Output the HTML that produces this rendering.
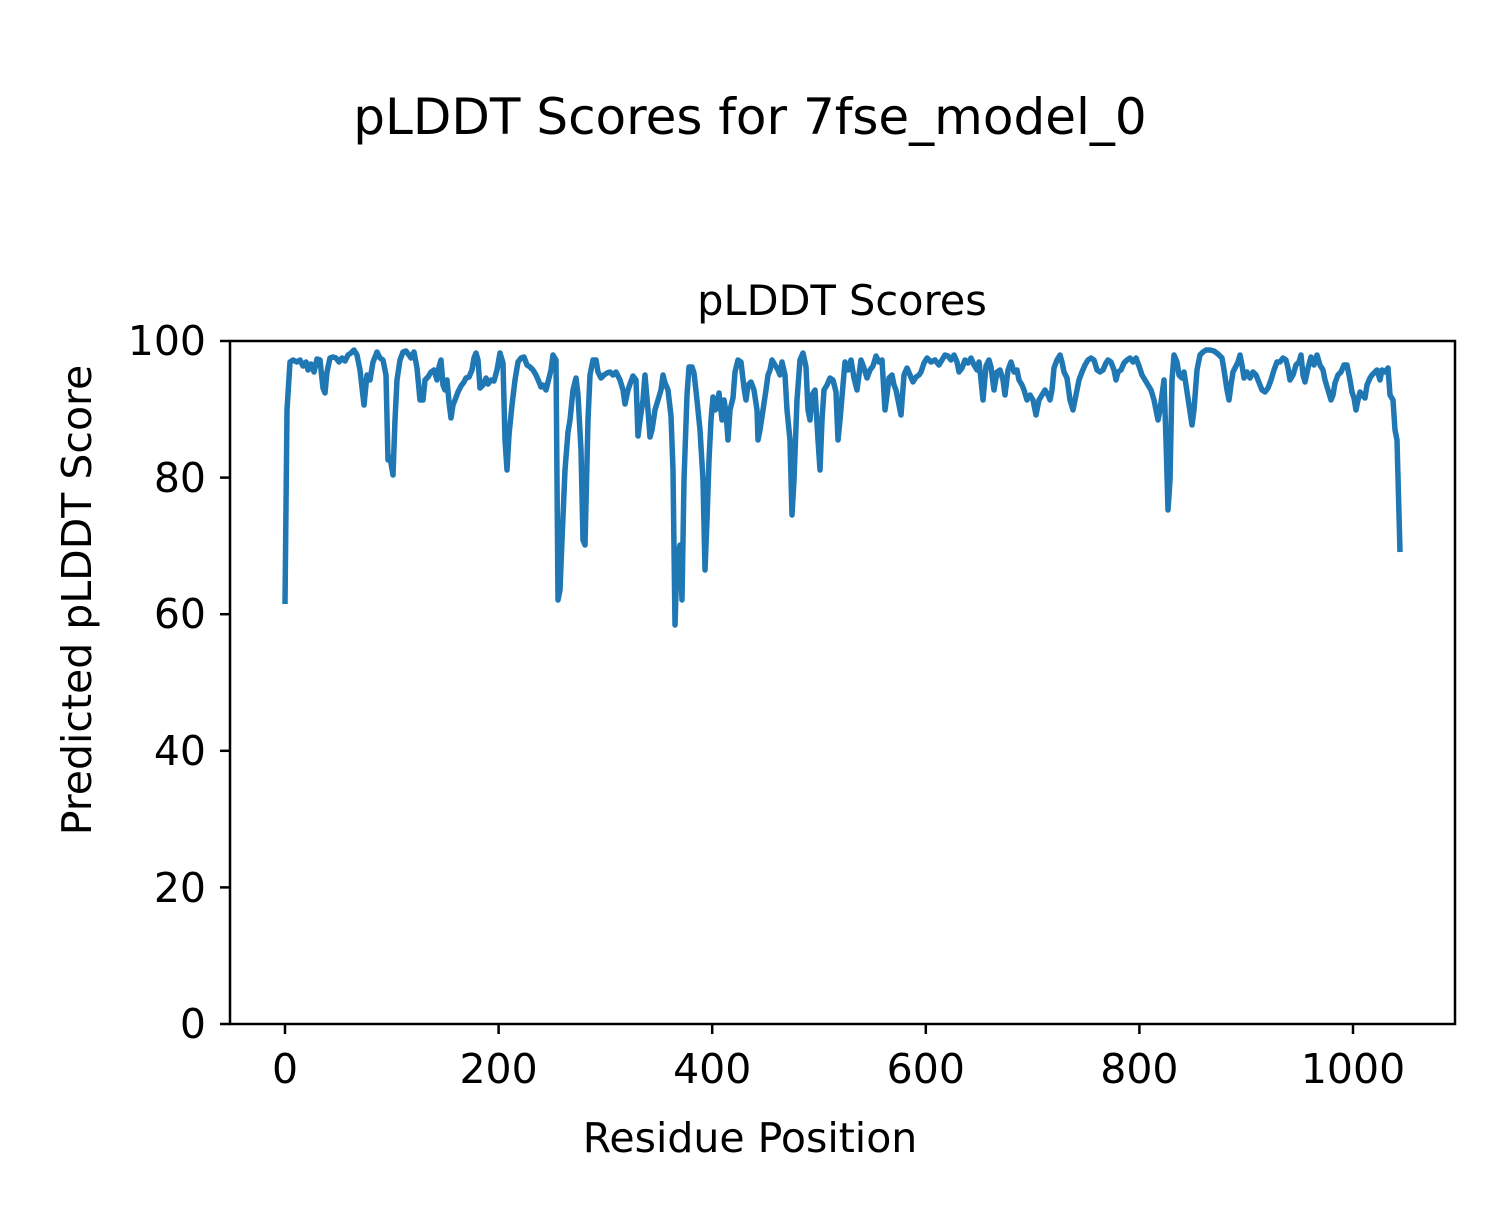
<!DOCTYPE html>
<html><head><meta charset="utf-8"><style>
html,body{margin:0;padding:0;background:#fff}
svg text{font-family:"DejaVu Sans","Liberation Sans",sans-serif;fill:#000}
</style></head><body>
<svg width="1500" height="1200" viewBox="0 0 1500 1200" xmlns="http://www.w3.org/2000/svg">
<rect width="1500" height="1200" fill="#fff"/>
<text x="750" y="134" font-size="50" text-anchor="middle">pLDDT Scores for 7fse_model_0</text>
<text x="842" y="315" font-size="41.5" text-anchor="middle">pLDDT Scores</text>
<defs><clipPath id="c"><rect x="230" y="341" width="1225" height="683"/></clipPath></defs>
<polyline clip-path="url(#c)" fill="none" stroke="#1f77b4" stroke-width="5.5" stroke-linejoin="round" points="285,604 287,410 290,362 293,360 297,362 300,360 303,366 306,362 308,370 311,364 314,372 317,359 320,360 323,388 325,393 327,372 330,358 333,357 336,358 339,362 342,358 345,361 348,355 351,353 354,350 357,355 360,370 364,405 367,375 370,380 373,362 377,352 380,358 383,360 386,375 388,460 390,457 393,475 395,420 397,380 400,360 403,352 406,351 409,355 411,358 414,352 417,368 420,400 423,400 425,380 428,377 431,372 434,370 437,380 439,367 441,360 443,385 445,390 447,380 449,402 451,418 453,405 455,400 458,392 461,386 464,382 466,378 469,377 472,370 474,358 476,353 478,360 480,388 483,385 486,378 488,384 491,380 494,381 497,370 500,353 503,363 505,440 507,470 509,435 512,405 515,380 518,362 521,358 524,357 527,365 530,367 533,370 536,375 539,382 541,387 543,385 546,390 548,382 551,370 553,355 556,360 558,600 560,590 562,540 565,470 568,432 570,420 573,390 576,378 578,395 581,450 583,540 585,545 588,420 590,375 593,360 596,360 598,372 601,378 604,375 607,373 610,372 613,375 616,372 620,380 623,390 625,404 628,390 630,384 633,376 636,380 638,436 640,420 643,400 645,375 648,410 650,437 652,430 655,410 658,400 661,390 663,375 665,383 668,390 671,416 673,470 675,625 677,560 680,545 682,600 684,480 687,395 689,367 692,367 694,373 697,400 700,430 703,480 705,570 707,520 709,460 711,420 713,397 715,410 717,408 719,393 722,420 724,400 726,412 728,440 730,410 733,398 735,372 738,360 741,362 744,388 746,400 748,385 751,382 754,390 757,410 758,440 760,430 763,410 766,390 768,375 770,370 772,360 775,365 778,370 780,375 782,362 785,375 787,410 790,440 792,515 794,480 797,400 800,360 803,353 806,367 808,410 810,420 812,395 815,390 818,440 820,470 822,420 824,390 827,385 830,378 833,380 836,392 838,440 840,420 843,385 845,362 848,370 851,360 854,378 857,390 859,375 861,360 864,368 867,378 870,370 873,366 876,356 879,362 882,360 885,410 887,395 889,378 892,375 894,385 896,390 899,405 901,415 904,375 907,368 910,375 913,382 916,377 919,375 921,372 924,363 927,358 931,362 935,360 939,365 942,360 945,355 948,356 951,360 954,355 957,362 959,372 962,368 965,360 968,363 971,358 974,365 977,370 979,362 981,380 983,400 986,366 989,360 991,367 994,390 997,372 1000,370 1003,380 1005,395 1008,370 1011,362 1014,372 1017,370 1019,380 1022,385 1024,390 1027,400 1030,395 1033,400 1036,415 1039,400 1042,395 1045,390 1048,395 1050,400 1052,390 1054,368 1057,360 1060,355 1062,362 1064,372 1067,378 1070,400 1073,410 1076,395 1079,380 1082,372 1085,365 1088,360 1091,358 1094,360 1097,370 1100,372 1103,370 1106,363 1108,360 1111,362 1114,370 1116,380 1118,372 1121,370 1124,363 1127,360 1130,358 1133,362 1136,358 1139,366 1142,375 1145,380 1148,385 1151,390 1154,400 1156,410 1158,420 1160,410 1162,395 1164,380 1166,440 1168,510 1170,480 1172,380 1174,355 1177,362 1179,375 1182,378 1184,372 1186,385 1189,405 1192,425 1194,410 1197,370 1200,355 1203,352 1206,350 1210,350 1214,351 1218,354 1222,358 1224,370 1227,390 1229,400 1231,385 1233,372 1235,368 1238,362 1240,355 1242,365 1244,378 1247,372 1250,378 1253,372 1256,375 1258,380 1260,385 1262,390 1265,392 1268,388 1271,380 1274,370 1277,362 1280,362 1283,358 1286,360 1288,368 1290,380 1293,375 1296,365 1299,362 1301,355 1303,375 1305,382 1308,368 1311,357 1314,365 1317,355 1320,365 1323,370 1325,380 1328,390 1331,400 1333,395 1335,383 1338,375 1341,372 1344,365 1347,365 1350,380 1352,392 1354,398 1356,410 1358,400 1360,392 1362,395 1365,398 1367,385 1370,378 1372,375 1374,373 1377,370 1380,380 1382,370 1385,372 1388,368 1390,395 1393,400 1395,430 1397,440 1400,552"/>
<rect x="230" y="341" width="1225" height="683" fill="none" stroke="#000" stroke-width="2.5"/>
<g stroke="#000" stroke-width="2.5">
<line x1="285" y1="1024" x2="285" y2="1034"/><line x1="498.6" y1="1024" x2="498.6" y2="1034"/><line x1="712.2" y1="1024" x2="712.2" y2="1034"/><line x1="925.8" y1="1024" x2="925.8" y2="1034"/><line x1="1139.4" y1="1024" x2="1139.4" y2="1034"/><line x1="1353" y1="1024" x2="1353" y2="1034"/>
<line x1="220" y1="1024" x2="230" y2="1024"/><line x1="220" y1="887.4" x2="230" y2="887.4"/><line x1="220" y1="750.8" x2="230" y2="750.8"/><line x1="220" y1="614.2" x2="230" y2="614.2"/><line x1="220" y1="477.6" x2="230" y2="477.6"/><line x1="220" y1="341" x2="230" y2="341"/>
</g>
<g font-size="41" text-anchor="middle">
<text x="285" y="1083">0</text><text x="498.6" y="1083">200</text><text x="712.2" y="1083">400</text><text x="925.8" y="1083">600</text><text x="1139.4" y="1083">800</text><text x="1353" y="1083">1000</text>
</g>
<g font-size="41" text-anchor="end">
<text x="206" y="1038">0</text><text x="206" y="902">20</text><text x="206" y="765">40</text><text x="206" y="628">60</text><text x="206" y="492">80</text><text x="206" y="355">100</text>
</g>
<text x="750" y="1152" font-size="41" text-anchor="middle">Residue Position</text>
<text x="0" y="0" font-size="41" text-anchor="middle" transform="translate(91,600) rotate(-90)">Predicted pLDDT Score</text>
</svg>
</body></html>
